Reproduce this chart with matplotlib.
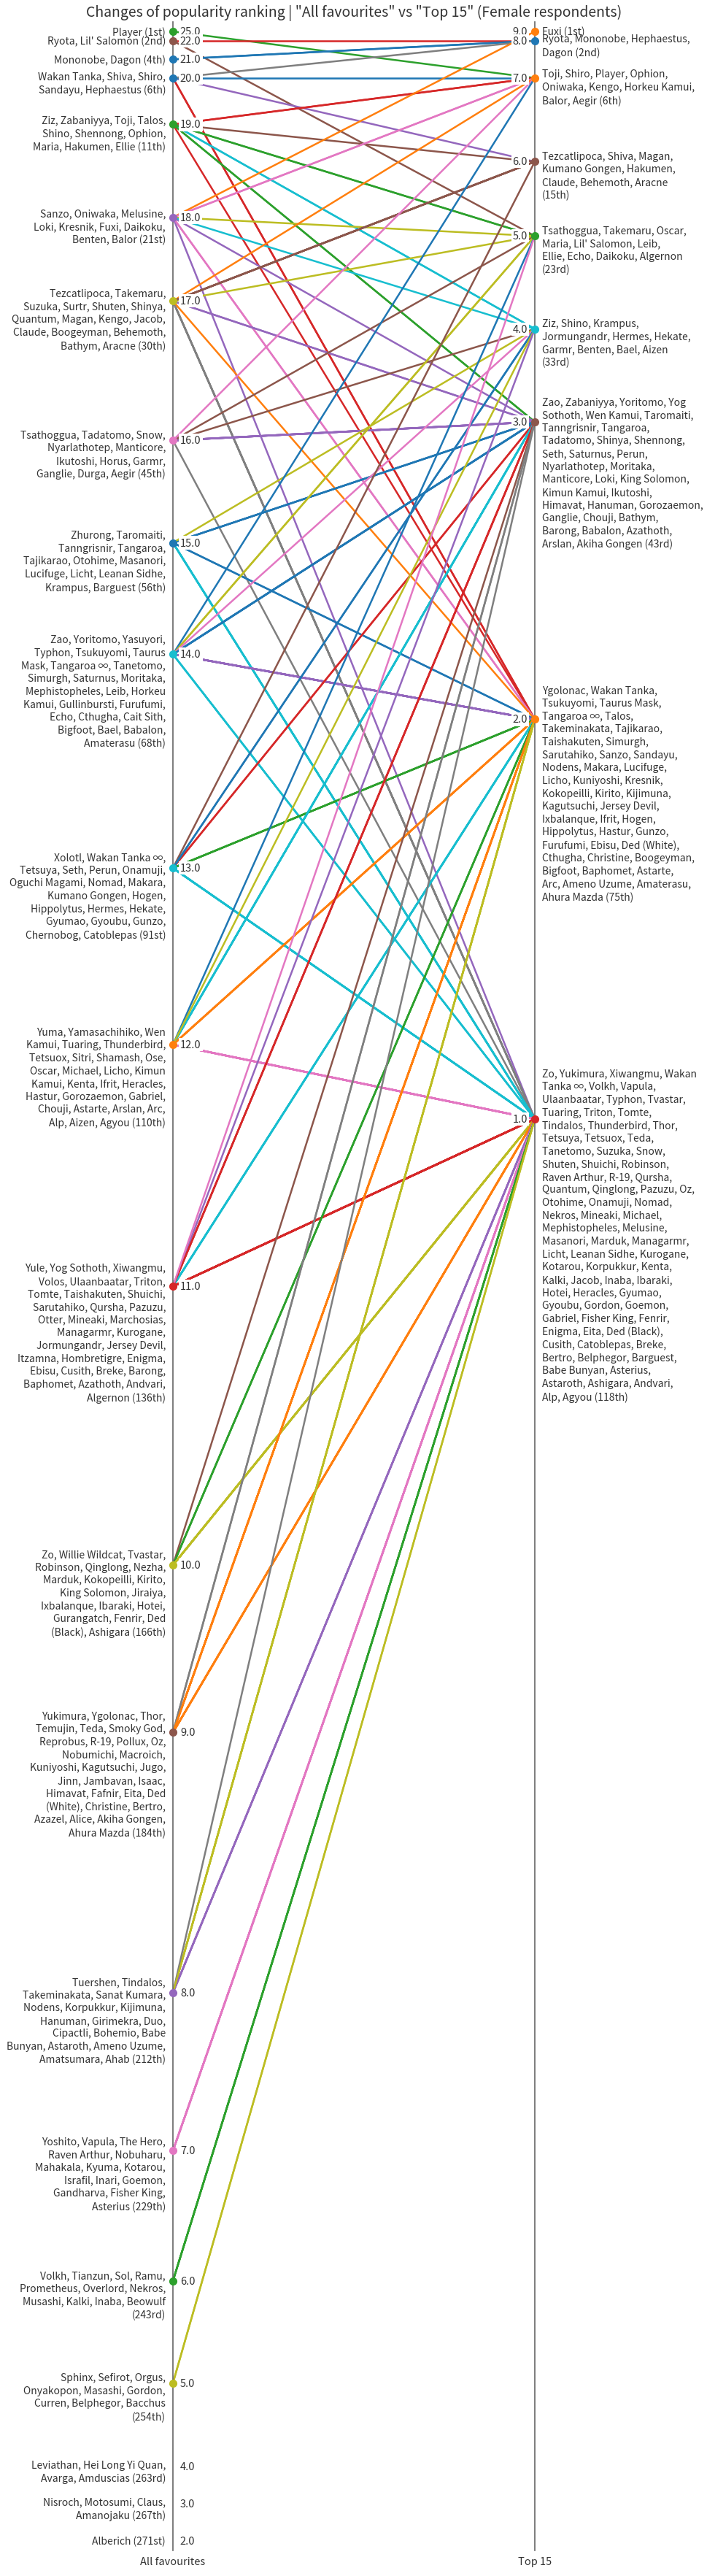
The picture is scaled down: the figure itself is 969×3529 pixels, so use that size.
import textwrap
import matplotlib.pyplot as plt

plt.rcParams['font.family'] = ['Noto Sans CJK JP', 'DejaVu Sans']

title = 'Changes of popularity ranking | "All favourites" vs "Top 15" (Female respondents)'
axis_names = ["All favourites", "Top 15"]

# "All favourites" groups (score, names sharing that score)
all_scores = [25, 22, 21, 20, 19, 18, 17, 16, 15, 14, 13, 12, 11, 10, 9, 8, 7, 6, 5, 4, 3, 2]
all_names = [
    ["Player"],
    ["Ryota", "Lil' Salomon"],
    ["Mononobe", "Dagon"],
    ["Wakan Tanka", "Shiva", "Shiro", "Sandayu", "Hephaestus"],
    ["Ziz", "Zabaniyya", "Toji", "Talos", "Shino", "Shennong", "Ophion", "Maria", "Hakumen", "Ellie"],
    ["Sanzo", "Oniwaka", "Melusine", "Loki", "Kresnik", "Fuxi", "Daikoku", "Benten", "Balor"],
    ["Tezcatlipoca", "Takemaru", "Suzuka", "Surtr", "Shuten", "Shinya", "Quantum", "Magan", "Kengo",
     "Jacob", "Claude", "Boogeyman", "Behemoth", "Bathym", "Aracne"],
    ["Tsathoggua", "Tadatomo", "Snow", "Nyarlathotep", "Manticore", "Ikutoshi", "Horus", "Garmr",
     "Ganglie", "Durga", "Aegir"],
    ["Zhurong", "Taromaiti", "Tanngrisnir", "Tangaroa", "Tajikarao", "Otohime", "Masanori", "Lucifuge",
     "Licht", "Leanan Sidhe", "Krampus", "Barguest"],
    ["Zao", "Yoritomo", "Yasuyori", "Typhon", "Tsukuyomi", "Taurus Mask", "Tangaroa ∞", "Tanetomo",
     "Simurgh", "Saturnus", "Moritaka", "Mephistopheles", "Leib", "Horkeu Kamui", "Gullinbursti",
     "Furufumi", "Echo", "Cthugha", "Cait Sith", "Bigfoot", "Bael", "Babalon", "Amaterasu"],
    ["Xolotl", "Wakan Tanka ∞", "Tetsuya", "Seth", "Perun", "Onamuji", "Oguchi Magami", "Nomad", "Makara",
     "Kumano Gongen", "Hogen", "Hippolytus", "Hermes", "Hekate", "Gyumao", "Gyoubu", "Gunzo",
     "Chernobog", "Catoblepas"],
    ["Yuma", "Yamasachihiko", "Wen Kamui", "Tuaring", "Thunderbird", "Tetsuox", "Sitri", "Shamash", "Ose",
     "Oscar", "Michael", "Licho", "Kimun Kamui", "Kenta", "Ifrit", "Heracles", "Hastur", "Gorozaemon",
     "Gabriel", "Chouji", "Astarte", "Arslan", "Arc", "Alp", "Aizen", "Agyou"],
    ["Yule", "Yog Sothoth", "Xiwangmu", "Volos", "Ulaanbaatar", "Triton", "Tomte", "Taishakuten", "Shuichi",
     "Sarutahiko", "Qursha", "Pazuzu", "Otter", "Mineaki", "Marchosias", "Managarmr", "Kurogane",
     "Jormungandr", "Jersey Devil", "Itzamna", "Hombretigre", "Enigma", "Ebisu", "Cusith", "Breke",
     "Barong", "Baphomet", "Azathoth", "Andvari", "Algernon"],
    ["Zo", "Willie Wildcat", "Tvastar", "Robinson", "Qinglong", "Nezha", "Marduk", "Kokopeilli", "Kirito",
     "King Solomon", "Jiraiya", "Ixbalanque", "Ibaraki", "Hotei", "Gurangatch", "Fenrir", "Ded (Black)",
     "Ashigara"],
    ["Yukimura", "Ygolonac", "Thor", "Temujin", "Teda", "Smoky God", "Reprobus", "R-19", "Pollux", "Oz",
     "Nobumichi", "Macroich", "Kuniyoshi", "Kagutsuchi", "Jugo", "Jinn", "Jambavan", "Isaac", "Himavat",
     "Fafnir", "Eita", "Ded (White)", "Christine", "Bertro", "Azazel", "Alice", "Akiha Gongen",
     "Ahura Mazda"],
    ["Tuershen", "Tindalos", "Takeminakata", "Sanat Kumara", "Nodens", "Korpukkur", "Kijimuna", "Hanuman",
     "Girimekra", "Duo", "Cipactli", "Bohemio", "Babe Bunyan", "Astaroth", "Ameno Uzume", "Amatsumara",
     "Ahab"],
    ["Yoshito", "Vapula", "The Hero", "Raven Arthur", "Nobuharu", "Mahakala", "Kyuma", "Kotarou", "Israfil",
     "Inari", "Goemon", "Gandharva", "Fisher King", "Asterius"],
    ["Volkh", "Tianzun", "Sol", "Ramu", "Prometheus", "Overlord", "Nekros", "Musashi", "Kalki", "Inaba",
     "Beowulf"],
    ["Sphinx", "Sefirot", "Orgus", "Onyakopon", "Masashi", "Gordon", "Curren", "Belphegor", "Bacchus"],
    ["Leviathan", "Hei Long Yi Quan", "Avarga", "Amduscias"],
    ["Nisroch", "Motosumi", "Claus", "Amanojaku"],
    ["Alberich"],
]

# "Top 15" groups
top_scores = [9, 8, 7, 6, 5, 4, 3, 2, 1]
top_names = [
    ["Fuxi"],
    ["Ryota", "Mononobe", "Hephaestus", "Dagon"],
    ["Toji", "Shiro", "Player", "Ophion", "Oniwaka", "Kengo", "Horkeu Kamui", "Balor", "Aegir"],
    ["Tezcatlipoca", "Shiva", "Magan", "Kumano Gongen", "Hakumen", "Claude", "Behemoth", "Aracne"],
    ["Tsathoggua", "Takemaru", "Oscar", "Maria", "Lil' Salomon", "Leib", "Ellie", "Echo", "Daikoku",
     "Algernon"],
    ["Ziz", "Shino", "Krampus", "Jormungandr", "Hermes", "Hekate", "Garmr", "Benten", "Bael", "Aizen"],
    ["Zao", "Zabaniyya", "Yoritomo", "Yog Sothoth", "Wen Kamui", "Taromaiti", "Tanngrisnir", "Tangaroa",
     "Tadatomo", "Shinya", "Shennong", "Seth", "Saturnus", "Perun", "Nyarlathotep", "Moritaka",
     "Manticore", "Loki", "King Solomon", "Kimun Kamui", "Ikutoshi", "Himavat", "Hanuman", "Gorozaemon",
     "Ganglie", "Chouji", "Bathym", "Barong", "Babalon", "Azathoth", "Arslan", "Akiha Gongen"],
    ["Ygolonac", "Wakan Tanka", "Tsukuyomi", "Taurus Mask", "Tangaroa ∞", "Talos", "Takeminakata",
     "Tajikarao", "Taishakuten", "Simurgh", "Sarutahiko", "Sanzo", "Sandayu", "Nodens", "Makara",
     "Lucifuge", "Licho", "Kuniyoshi", "Kresnik", "Kokopeilli", "Kirito", "Kijimuna", "Kagutsuchi",
     "Jersey Devil", "Ixbalanque", "Ifrit", "Hogen", "Hippolytus", "Hastur", "Gunzo", "Furufumi", "Ebisu",
     "Ded (White)", "Cthugha", "Christine", "Boogeyman", "Bigfoot", "Baphomet", "Astarte", "Arc",
     "Ameno Uzume", "Amaterasu", "Ahura Mazda"],
    ["Zo", "Yukimura", "Xiwangmu", "Wakan Tanka ∞", "Volkh", "Vapula", "Ulaanbaatar", "Typhon", "Tvastar",
     "Tuaring", "Triton", "Tomte", "Tindalos", "Thunderbird", "Thor", "Tetsuya", "Tetsuox", "Teda",
     "Tanetomo", "Suzuka", "Snow", "Shuten", "Shuichi", "Robinson", "Raven Arthur", "R-19", "Qursha",
     "Quantum", "Qinglong", "Pazuzu", "Oz", "Otohime", "Onamuji", "Nomad", "Nekros", "Mineaki", "Michael",
     "Mephistopheles", "Melusine", "Masanori", "Marduk", "Managarmr", "Licht", "Leanan Sidhe", "Kurogane",
     "Kotarou", "Korpukkur", "Kenta", "Kalki", "Jacob", "Inaba", "Ibaraki", "Hotei", "Heracles", "Gyumao",
     "Gyoubu", "Gordon", "Goemon", "Gabriel", "Fisher King", "Fenrir", "Enigma", "Eita", "Ded (Black)",
     "Cusith", "Catoblepas", "Breke", "Bertro", "Belphegor", "Barguest", "Babe Bunyan", "Asterius",
     "Astaroth", "Ashigara", "Andvari", "Alp", "Agyou"],
]

# colours as seen in the original: group dots, and lines keyed by (left score, right score)
left_dot = [2, 5, 0, 0, 2, 4, 8, 6, 0, 9, 9, 1, 3, 8, 5, 4, 6, 2, 8, None, None, None]
right_dot = [1, 0, 1, 5, 2, 9, 5, 1, 3]
pair_color = {
    (25, 7): 2,
    (22, 8): 3, (22, 5): 5,
    (21, 8): 0,
    (20, 8): 7, (20, 7): 0, (20, 6): 4, (20, 2): 3,
    (19, 7): 3, (19, 6): 5, (19, 5): 2, (19, 4): 9, (19, 3): 2, (19, 2): 3,
    (18, 9): 1, (18, 7): 6, (18, 5): 8, (18, 4): 9, (18, 3): 4, (18, 2): 6, (18, 1): 4,
    (17, 7): 1, (17, 6): 5, (17, 5): 8, (17, 3): 4, (17, 2): 1, (17, 1): 7,
    (16, 7): 6, (16, 5): 5, (16, 4): 5, (16, 3): 4, (16, 1): 7,
    (15, 4): 8, (15, 3): 0, (15, 2): 0, (15, 1): 9,
    (14, 7): 0, (14, 5): 8, (14, 4): 6, (14, 3): 0, (14, 2): 4, (14, 1): 9,
    (13, 6): 5, (13, 4): 0, (13, 3): 3, (13, 2): 2, (13, 1): 9,
    (12, 5): 0, (12, 4): 8, (12, 3): 9, (12, 2): 1, (12, 1): 6,
    (11, 5): 6, (11, 4): 4, (11, 3): 3, (11, 2): 9, (11, 1): 3,
    (10, 3): 5, (10, 2): 2, (10, 1): 8,
    (9, 3): 7, (9, 2): 1, (9, 1): 1,
    (8, 3): 7, (8, 2): 8, (8, 1): 4,
    (7, 1): 6, (6, 1): 2, (5, 1): 8,
}


def ordinal(n):
    if 10 <= n % 100 <= 20:
        suf = 'th'
    else:
        suf = {1: 'st', 2: 'nd', 3: 'rd'}.get(n % 10, 'th')
    return f"{n}{suf}"


def ranks(groups):
    out, r = [], 1
    for g in groups:
        out.append(r)
        r += len(g)
    return out


left_rank = ranks(all_names)
right_rank = ranks(top_names)
left_of = {n: (all_scores[i], left_rank[i]) for i, g in enumerate(all_names) for n in g}
right_of = {n: (top_scores[i], right_rank[i]) for i, g in enumerate(top_names) for n in g}

fig, ax = plt.subplots(figsize=(9.7, 35.3), dpi=100)
fig.subplots_adjust(left=0.2443, right=0.7557, top=0.9911, bottom=0.0099)

# one line per character that appears in both rankings
for g in all_names:
    for n in g:
        if n not in right_of:
            continue
        (ls, lr), (rs, rr) = left_of[n], right_of[n]
        c = f"C{pair_color.get((ls, rs), 7)}"
        ax.plot([1, 2], [lr, rr], color=c, lw=1.8, zorder=2)

txt = '#333333'
fs = 10
for i, (s, g) in enumerate(zip(all_scores, all_names)):
    r = left_rank[i]
    if left_dot[i] is not None:
        ax.plot(1, r, 'o', color=f"C{left_dot[i]}", ms=7, zorder=4, clip_on=False)
    ax.text(1.02, r, f"{s:.1f}", ha='left', va='center', fontsize=10.5, color=txt, zorder=5,
            bbox=dict(facecolor='white', edgecolor='none', pad=1.5))
    label = textwrap.fill(", ".join(g) + f" ({ordinal(r)})", width=30)
    nl = label.count("\n")
    ax.text(0.98, r + nl * 0.5, label, ha='right', va='center', multialignment='right',
            fontsize=fs, linespacing=1.33, color=txt)

for i, (s, g) in enumerate(zip(top_scores, top_names)):
    r = right_rank[i]
    ax.plot(2, r, 'o', color=f"C{right_dot[i]}", ms=7, zorder=4, clip_on=False)
    ax.text(1.98, r, f"{s:.1f}", ha='right', va='center', fontsize=10.5, color=txt, zorder=5,
            bbox=dict(facecolor='white', edgecolor='none', pad=1.5))
    label = textwrap.fill(", ".join(g) + f" ({ordinal(r)})", width=30)
    nl = label.count("\n")
    ax.text(2.02, r + nl * 0.5, label, ha='left', va='center', multialignment='left',
            fontsize=fs, linespacing=1.33, color=txt)

ax.set_xlim(1, 2)
ax.set_ylim(272, 0)
ax.set_xticks([1, 2])
ax.set_xticklabels(axis_names, fontsize=10.5, color=txt)
ax.set_yticks([])
ax.tick_params(axis='x', length=0, pad=6)
for side in ['top', 'bottom']:
    ax.spines[side].set_visible(False)
for side in ['left', 'right']:
    ax.spines[side].set_color('#666666')
    ax.spines[side].set_linewidth(1.2)
ax.set_title(title, fontsize=14, color=txt)

fig.savefig('out.png', dpi=100)
